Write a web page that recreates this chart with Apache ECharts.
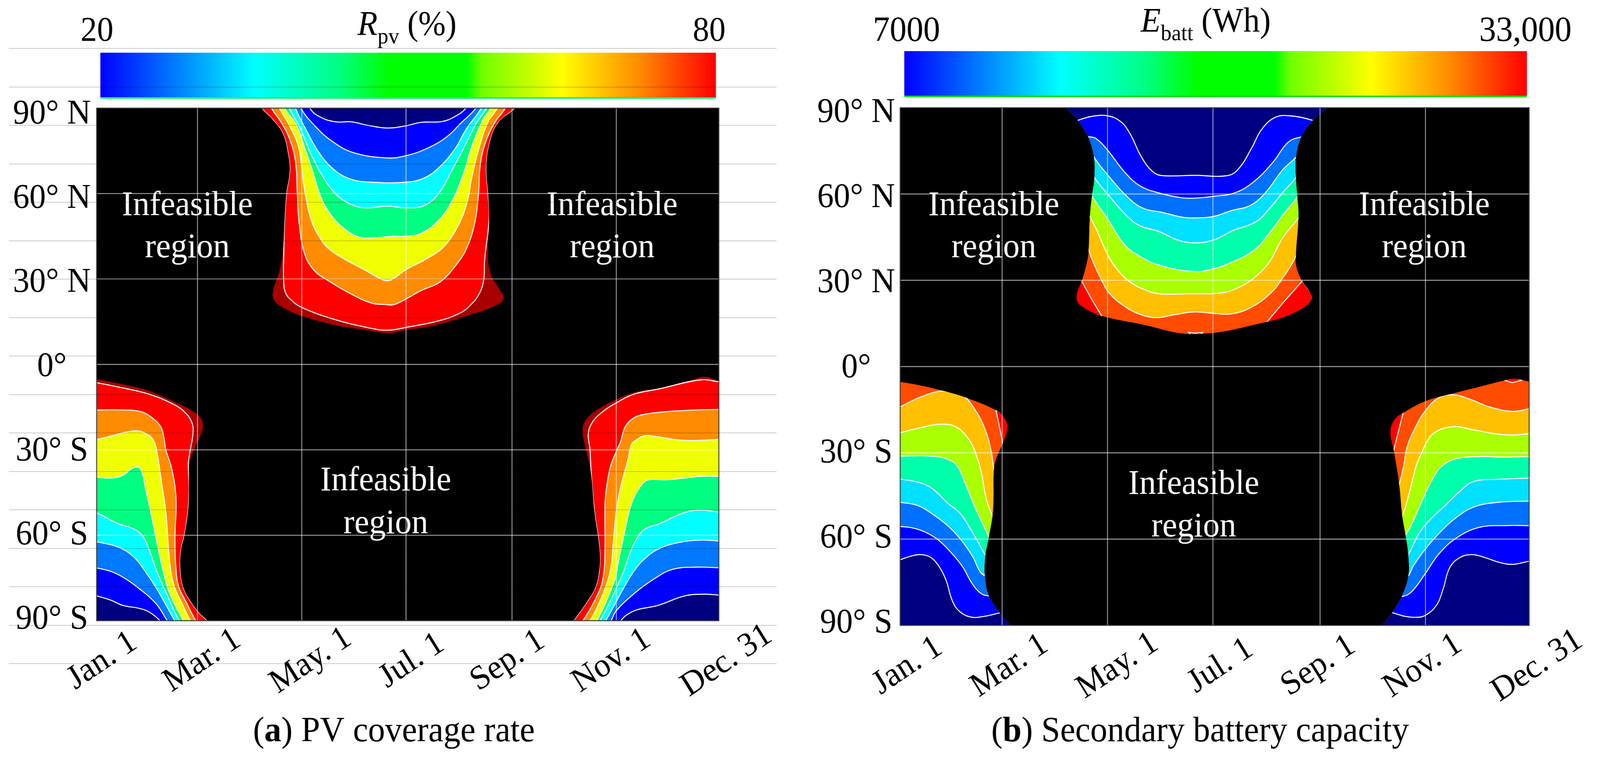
<!DOCTYPE html>
<html><head><meta charset="utf-8">
<style>html,body{margin:0;padding:0;background:#fff;overflow:hidden}#c{width:4289px;height:1952px;transform-origin:0 0}</style>
<script src="https://cdn.jsdelivr.net/npm/echarts@6/dist/echarts.min.js"></script>
</head><body><div id="c"></div>
<script>
// ---- tick labels and axis values ----
const tickDays=[59,120,181,243,304];
const monthLabels=['Jan. 1','Mar. 1','May. 1','Jul. 1','Sep. 1','Nov. 1','Dec. 31'];
const aLabelDays=[3.3,61.8,125.3,184.4,240.5,301.2,368.6];
const bLabelDays=[4.3,63.3,125.8,185.5,242,302.5,368.7];
const latValues=[-90,-60,-30,0,30,60,90];
const latLabels=['90° S','60° S','30° S','0°','30° N','60° N','90° N'];
const gridLats=[-60,-30,0,30,60];
const rpvRange=[20,80];
const ebattRange=[7000,33000];
const jetStops=[[0,'#0000ff'],[0.125,'#0080ff'],[0.25,'#00ffff'],[0.39,'#00ff80'],[0.47,'#00ff00'],[0.595,'#00ff00'],[0.62,'#70ff00'],[0.75,'#ffff00'],[0.875,'#ff8c00'],[1,'#ff0000']];

// ---- panel (a) PV coverage: contours as [day, latitude] ----
const aN_edge=[[96,92],[96.6,90],[103,86],[109,81],[112,74],[113,68],[111,60],[110,51],[109,40],[107,33],[103,25],[104.5,22],[112,19],[120,17],[138,14],[158,12],[170,11],[181,12],[200,14],[216,17],[231,20],[238,23],[235,27],[231,31],[229,37],[229.6,51],[229,60],[228,69],[230,78],[235,85],[244.7,90],[245,92]];
const aN_r80=[[96,92],[96.6,90],[103,86],[109,81],[112,74],[113,68],[111,60],[110,51],[109.5,40],[109.4,29],[110.6,25],[114,22.5],[120,20],[138,16],[158,13],[170,12],[181,13],[200,15.3],[212.5,18],[219,21],[224,25],[226.5,30],[227,37],[229.6,51],[229,60],[228,69],[230,78],[235,85],[244.7,90],[245,92]];
const aN_r70=[[101,93],[102.3,90],[108,85],[113,79],[116.4,71],[117.4,60],[118.4,50],[121.6,39],[127.3,33],[136.6,29],[148,25],[160.5,21.6],[169,21],[174,21],[181,23],[190,26],[201,29],[210.4,35],[216.6,41],[221.3,50],[223.4,60],[224.4,70],[227.5,78],[233,85],[239,90],[240,93]];
const aN_r60=[[106,93],[107,90],[112.7,84],[118,76.7],[120,68.7],[122,60],[125.7,50.4],[130.4,44.7],[135.6,40.7],[144,37.3],[156.4,33.3],[167.8,29.6],[172,29.6],[181,33.3],[192.7,37],[203,41.3],[211.4,48.7],[216.6,56.7],[219.7,66.4],[224,76.7],[229,85.2],[234.3,90],[235,93]];
const aN_r50=[[109,93],[110,90],[117,84],[122,75.5],[126.8,67],[131.4,58.4],[137.7,52],[145,47.6],[153,44.8],[160.5,44.4],[173,45],[181,45],[189.6,46],[199,50],[207.3,56.7],[214.6,67],[219.7,77],[226,86],[230.5,90],[231,93]];
const aN_r40=[[112,93],[112.7,90],[119,83],[125,74.4],[132.5,65.8],[139.7,60],[147,56.7],[156.4,55],[170,55.6],[181,55],[191.7,55.8],[200,60],[208.3,68.7],[215.6,77],[222,84.6],[228,90],[229,93]];
const aN_r30=[[116,93],[116.4,90],[122,83],[129.4,75],[137.7,69],[148,65.2],[160.5,64],[181,64],[191.7,65.5],[200,69],[209.4,75.5],[216.6,83],[225,90],[226,93]];
const aN_r25=[[119,93],[119.5,90],[127.3,84],[137.7,78.4],[150,74.4],[170,72.5],[181,73.3],[193.8,76],[205,80],[213.5,85],[221.8,90],[223,93]];
const aN_r20=[[124,93],[124.7,90],[130.4,87],[139.7,85.2],[149,85.2],[158.4,84],[170,83],[181,83.8],[189.6,85],[202,85.3],[209.4,87],[216,90],[217,93]];

const aSL_edge=[[-3,-5],[0,-5.2],[15.6,-7],[30.3,-9.2],[45,-13],[56,-16.3],[61,-19],[62.2,-21.5],[60.7,-25],[57.4,-29.4],[54.5,-34.4],[54,-41],[53.7,-50],[51.5,-59.5],[49.3,-65.6],[49,-72],[50.8,-78.5],[55.2,-83.4],[59.6,-87],[64.7,-90],[68,-93],[-3,-93]];
const aSL_r80=[[-3,-6.2],[0,-6.4],[15.6,-8.3],[30.3,-10.4],[45,-14],[52.3,-17.2],[56,-20.9],[56.3,-24.5],[55,-29.4],[53.7,-34.4],[54,-41],[53.7,-50],[51.5,-59.5],[49.3,-65.6],[49,-72],[50.8,-78.5],[55.2,-83.4],[59.6,-87],[64.7,-90],[68,-93],[-3,-93]];
const aSL_r70=[[-3,-16],[0,-16],[15.6,-16],[26,-16.6],[33,-19],[37.6,-22],[39.4,-25.8],[40.5,-30],[43.5,-35.6],[45.7,-42.3],[46.5,-49],[45.8,-61.4],[46.4,-71.8],[48,-78],[52.3,-83.4],[58,-90],[62,-93],[-3,-93]];
const aSL_r60=[[-3,-26.6],[0,-26.4],[8.3,-25.2],[15.6,-24],[23,-23.3],[28,-24],[33,-26.4],[35.4,-31.3],[37.6,-40],[40.5,-52],[42,-64.4],[43.5,-73],[45.7,-78.5],[50,-84],[54.8,-90],[58,-93],[-3,-93]];
const aSL_r50=[[-3,-39.6],[0,-39.6],[8.3,-39.9],[15,-39],[21.5,-36.3],[25.5,-36.5],[28.8,-44.2],[33.2,-56.4],[37,-67.5],[41.3,-78],[45,-83.4],[50.8,-90],[54,-93],[-3,-93]];
const aSL_r40=[[-3,-52],[0,-52.1],[12,-55.8],[21.5,-57.7],[26.6,-60],[30.3,-64.4],[35.4,-73],[41.3,-81],[48.2,-90],[52,-93],[-3,-93]];
const aSL_r30=[[-3,-62],[0,-62.3],[12,-64],[21.5,-67.5],[28.8,-73],[35.4,-79],[45.7,-90],[49,-93],[-3,-93]];
const aSL_r25=[[-3,-71.4],[0,-71.5],[8.3,-72.7],[15.6,-74.8],[24.4,-78.5],[34.7,-84],[41.3,-90],[45,-93],[-3,-93]];
const aSL_r20=[[-3,-81],[0,-81.3],[8.3,-82.8],[15.6,-84.7],[24.4,-85.6],[30.3,-86.8],[37,-90],[40,-93],[-3,-93]];

const aSR_edge=[[368,-6.2],[364,-5.8],[355.7,-4.3],[347.7,-5.5],[329,-8.3],[314.6,-9.8],[304,-12.3],[292.6,-16],[286,-19.6],[284.2,-23.3],[286,-29.4],[289,-37.4],[291.2,-51.5],[293.4,-60.7],[294.5,-67.5],[294,-72.4],[292,-78],[287.5,-82.8],[279,-90],[275,-93],[368,-93]];
const aSR_r80=[[368,-6.4],[364,-6.1],[353.5,-5.4],[329,-8.6],[314.6,-10.4],[304,-13.5],[294.8,-17.2],[289.3,-21],[287.6,-24.5],[288.6,-30],[289.3,-38],[291.2,-51.5],[293.4,-60.7],[294.5,-67.5],[294,-72.4],[292,-78],[287.5,-82.8],[279,-90],[275,-93],[368,-93]];
const aSR_r70=[[368,-15.8],[364,-15.8],[351,-16],[333,-16.6],[318.3,-17.8],[312.4,-19.6],[308.8,-22.4],[306.6,-27],[304.4,-30],[300.7,-35.6],[298.5,-42.3],[297.4,-49],[297.4,-65.6],[296.3,-74.8],[293.4,-80.4],[284.5,-90],[280,-93],[368,-93]];
const aSR_r60=[[368,-26.2],[364,-26.3],[351,-26.7],[340,-26.5],[329,-25.5],[321,-25],[316,-26.4],[312.8,-28.2],[311,-33],[306.6,-43],[304,-51.5],[302.2,-62.6],[300.7,-71.8],[296.3,-80.4],[288.6,-90],[284,-93],[368,-93]];
const aSR_r50=[[368,-39.2],[364,-39.3],[353.5,-39.3],[344,-39.9],[333,-40.5],[324.6,-40.4],[321,-41],[316.8,-44],[312.8,-49],[308.8,-59],[305,-70],[302.9,-76],[292.6,-90],[288,-93],[368,-93]];
const aSR_r40=[[368,-52],[364,-51.8],[353.5,-51.2],[344,-52],[329,-56],[321,-57.7],[316.8,-60.4],[312.4,-65.6],[307.3,-74.2],[294.5,-90],[290,-93],[368,-93]];
const aSR_r30=[[368,-62.2],[364,-62],[353.5,-61.7],[340,-62.6],[329,-64.7],[322,-67.5],[316,-71.2],[310,-76.7],[297.8,-90],[294,-93],[368,-93]];
const aSR_r25=[[368,-71.4],[364,-71.4],[351,-71.2],[336.7,-72],[325.7,-75.5],[314.6,-80.4],[304,-86.5],[301,-90],[298,-93],[368,-93]];
const aSR_r20=[[368,-81.2],[364,-81],[355,-80.7],[344,-81.3],[328,-84.7],[316,-86.2],[310,-88],[306.6,-90],[303,-93],[368,-93]];

// ---- panel (b) battery capacity ----
const bN_edge=[[95,92],[96.2,90],[102.8,85.7],[108.9,79.8],[112.2,72.8],[112.4,65.5],[111,59.3],[109.8,52.2],[109,40],[107.8,35.6],[105,29.7],[102.3,25.2],[102.8,22.4],[107.8,20],[116.6,17.6],[138.6,14.8],[170.5,11.3],[211.3,15.4],[230,19.3],[238.2,23.5],[237,26],[232.7,29.7],[229.4,34.5],[229,38.4],[230.5,52.2],[229.8,59.3],[229,65.5],[229,72.8],[232,79.8],[238.8,85.7],[246.5,90],[247.5,92]];
const bN_e30=[[106,47],[109,40.7],[112.2,35.6],[116.6,30],[121,25.5],[129.8,21],[138.6,18.2],[148.5,17],[158.4,18],[170.5,19],[181.3,18.5],[191.5,18.3],[202.5,20.4],[213.5,25],[221.2,30.6],[229,38.4],[233,46],[245,95],[95,95]];
const bN_e25=[[106,57],[109.8,52.2],[113.3,48],[120,39],[125.4,33.9],[133,29.4],[142,26.6],[149.6,25.3],[167,25.3],[186,25.6],[194.8,27.2],[203.6,30.3],[213.5,36.2],[221.2,44.6],[231,52.2],[235,57],[245,95],[95,95]];
const bN_e22=[[107,64],[111,59.3],[120,51.4],[129.8,42.4],[138.6,38.4],[149.6,35.3],[170.5,33],[181.3,34],[189.3,35.6],[204.7,40.4],[213.5,46.3],[221.2,52.5],[230,59.2],[235,65],[245,95],[95,95]];
const bN_e19=[[108,71],[112.4,65.7],[121,59.3],[131,52.5],[138.6,49],[149.6,47],[160.6,44],[170.5,43],[181.3,44],[192.6,47.3],[205.8,50.3],[213.5,54.8],[221.2,60.4],[229,65.7],[234,71],[245,95],[95,95]];
const bN_e16=[[108,78],[112.2,72.8],[121,66],[132,58.7],[140.8,55],[151.8,53.6],[162.8,52],[170.5,51.7],[181.3,52.2],[191.5,54.2],[202.5,56],[211.3,60.4],[221.2,68.3],[229,72.8],[234,77],[245,95],[95,95]];
const bN_e13=[[104,80],[108.9,79.9],[113.3,79.3],[120,75.3],[129.8,67.7],[138.6,62.9],[149.6,60.4],[162.8,58.7],[171.6,58.6],[181.3,59.2],[193.7,60.4],[204.7,64.3],[215.7,71],[224.5,78],[232.4,79.9],[237,80],[245,95],[95,95]];
const bN_e10=[[97,84],[102.8,85.6],[111,87],[120,87.2],[127.6,85.2],[133,81],[139.7,72.8],[146.3,67.7],[151.8,66.4],[170.5,66.5],[189.3,66.4],[195.9,68.8],[203.6,76.2],[209,82.3],[216.8,86.6],[225.6,87.2],[238.8,85.6],[245,84],[247,95],[95,95]];
const bN_peakL=[[105,29.7],[111,23.2],[116.6,17.6],[100,14],[95,25]];
const bN_peakR=[[232.7,29.7],[222.3,22.7],[211.8,15.2],[225,8],[245,20]];
const bN_peakM=[[167,11.9],[170.5,11.6],[175,11.9],[171,9]];

const bSL_edge=[[-3,-5],[0,-5.3],[11.4,-6.5],[26,-8.6],[40.4,-11.3],[55,-15],[59.2,-17],[62,-21],[59.2,-27],[55.6,-32],[54.2,-36.2],[54,-46],[53.4,-52],[51.3,-59.2],[49.1,-66.5],[49.1,-73.8],[51.3,-79.8],[57.8,-85.9],[63.6,-90],[67,-93],[-3,-93]];
const bSL_e30=[[-3,-14.6],[0,-14],[11.4,-10.7],[24.5,-8.5],[36,-10],[43.3,-15],[49,-21.6],[52.7,-29.5],[54.2,-35.6],[56,-40],[70,-93],[-3,-93]];
const bSL_e25=[[-3,-23.2],[0,-23],[11.4,-21.3],[24.5,-20],[33.2,-21.3],[40.4,-25.9],[44,-30.7],[47,-36.8],[49.8,-45.9],[53.4,-52.2],[56,-57],[70,-93],[-3,-93]];
const bSL_e22=[[-3,-31.1],[0,-31.1],[17.2,-31.1],[27.4,-32.2],[33.2,-34.7],[37.5,-40.4],[43.3,-48.9],[51.3,-59.2],[55,-64],[70,-93],[-3,-93]];
const bSL_e19=[[-3,-39],[0,-39.1],[11.4,-40.4],[18.7,-42.5],[27.4,-47.4],[34.6,-51],[40.4,-56.2],[49.5,-65.9],[53,-70],[70,-93],[-3,-93]];
const bSL_e16=[[-3,-47],[0,-47.2],[10,-48.3],[18.7,-51.3],[27.4,-55.3],[34.6,-59.8],[41.8,-65.9],[46.2,-71.3],[49.1,-72.8],[54,-74],[70,-93],[-3,-93]];
const bSL_e13=[[-3,-55.4],[0,-55.6],[7.8,-56.2],[15,-57.7],[22.3,-60.4],[29.5,-64.7],[36,-69.5],[41.8,-75.6],[47,-79],[51.6,-79.8],[56,-80.2],[70,-93],[-3,-93]];
const bSL_e10=[[-3,-68],[0,-67.2],[6.4,-65.9],[12.2,-65.4],[18,-66.5],[23,-70],[26.6,-74.4],[30.3,-81.6],[34.6,-85.3],[41.8,-87.2],[49.1,-86.8],[57.4,-85.7],[63,-85],[70,-93],[-3,-93]];
const bSL_peak=[[55.5,-15.3],[59.4,-26.5],[66,-26],[66,-15]];

const bSR_edge=[[368,-5.5],[364,-5.2],[355.3,-4.2],[349.8,-4.8],[335.3,-7],[317,-9.8],[304,-12],[291.4,-16],[286,-18.6],[283.7,-22.8],[285.6,-29],[288.8,-41],[290.6,-52],[292.5,-58.6],[294.1,-65.3],[294.1,-73],[290.3,-80],[284.8,-85.6],[279,-90],[275,-93],[368,-93]];
const bSR_e30=[[368,-14.4],[364,-14.7],[354.2,-15.6],[341,-14],[329.5,-11.3],[320,-9.8],[311.3,-11],[304,-15.3],[298.3,-21],[293.5,-27.7],[291.4,-34.4],[288.8,-41],[285,-48],[275,-93],[368,-93]];
const bSR_e25=[[368,-23.2],[364,-23.3],[355.6,-23.8],[346,-23.5],[331.7,-22],[320,-20.9],[309.2,-23],[304,-27],[302,-29.8],[299,-33.8],[294.6,-44],[290.6,-52],[285,-58],[275,-93],[368,-93]];
const bSR_e22=[[368,-31.3],[364,-31.3],[349.8,-31.5],[335.3,-31.3],[320.8,-32.2],[312.8,-35],[309.2,-38],[304,-44],[296.8,-53.8],[292.5,-58.6],[285,-65],[275,-93],[368,-93]];
const bSR_e19=[[368,-38.8],[364,-38.8],[346.2,-39.2],[331.7,-40],[323.7,-43.5],[317,-47.4],[310,-51.3],[304,-55],[299.7,-58.6],[294.1,-65.3],[288,-70],[275,-93],[368,-93]];
const bSR_e16=[[368,-46.8],[364,-46.8],[346.2,-47.2],[331.7,-48.9],[320.8,-53],[312.8,-57.4],[304,-63.4],[296.8,-69.5],[293.8,-73],[288,-75],[275,-93],[368,-93]];
const bSR_e13=[[368,-55.3],[364,-55.3],[349.8,-55.3],[335.3,-55.9],[322.2,-59.5],[312,-65],[304,-71.9],[299,-76.2],[294.6,-79],[290.3,-80],[285,-80.5],[275,-93],[368,-93]];
const bSR_e10=[[368,-67.4],[364,-67.7],[354.2,-68.8],[346.2,-68],[338.9,-66.5],[330.9,-65.4],[323.7,-66.5],[318,-70],[314.2,-77.4],[310.6,-82.8],[304,-86.5],[299,-87.2],[291.7,-86.8],[284.8,-85.6],[279,-85],[275,-93],[368,-93]];
const bSR_peak=[[291.1,-16],[285.6,-29.2],[278,-29],[278,-14]];
const bSR_peakTop=[[350,-4.8],[354.2,-5.6],[359.6,-4.8],[355,-3]];

// ---- colours of the filled contour levels ----
const aColors=['#ff0000','#ff8c00','#f0ff00','#00ff80','#00ffff','#0078ff','#0000ff','#000080'];
const bColors=['#ffc000','#aaff00','#00ffaa','#00e0ff','#0070ff','#0000ff','#000080'];

const SERIF='"Liberation Serif",serif';
function region(g,edge,edgeFill,levels,colors,peaks){
  const items=[{pts:edge,fill:edgeFill,line:false}];
  levels.forEach((pts,i)=>items.push({pts,fill:colors[i],line:true}));
  (peaks||[]).forEach(pts=>items.push({pts,fill:'#ff0000',line:true,sharp:true}));
  return {type:'custom',coordinateSystem:'cartesian2d',xAxisIndex:g,yAxisIndex:g,clip:true,z:2,silent:true,
    data:items.map((_,i)=>[i]),
    renderItem(p,api){
      const it=items[p.dataIndex];
      const poly=it.pts.map(q=>api.coord(q));
      const clip=edge.map(q=>api.coord(q));
      return {type:'polygon',shape:{points:poly,smooth:it.sharp?0:0.4},
        style:{fill:it.fill,stroke:it.line?'#ffffff':null,lineWidth:2.6},
        clipPath:{type:'polygon',shape:{points:clip,smooth:0.4}}};
    }};
}
function gridLines(g){
  return {type:'custom',coordinateSystem:'cartesian2d',xAxisIndex:g,yAxisIndex:g,clip:false,z:5,silent:true,
    data:tickDays.map(d=>[d,0]).concat(gridLats.map(l=>[null,l])).concat([[-1,-1]]),
    renderItem(p,api){
      const n=tickDays.length, i=p.dataIndex;
      const st={stroke:'rgba(255,255,255,0.62)',lineWidth:2.4,fill:null};
      if(i<n){const a=api.coord([tickDays[i],-90]),b=api.coord([tickDays[i],90]);
        return {type:'line',shape:{x1:a[0],y1:a[1],x2:b[0],y2:b[1]},style:st};}
      if(i<n+gridLats.length){const l=gridLats[i-n],a=api.coord([0,l]),b=api.coord([364,l]);
        return {type:'line',shape:{x1:a[0],y1:a[1],x2:b[0],y2:b[1]},style:st};}
      const a=api.coord([0,90]),b=api.coord([364,-90]);
      return {type:'rect',shape:{x:a[0],y:a[1],width:b[0]-a[0],height:b[1]-a[1]},style:{fill:null,stroke:'#3a3a3a',lineWidth:2.5}};
    }};
}
function monthText(g,days,off){
  return {type:'custom',coordinateSystem:'cartesian2d',xAxisIndex:g,yAxisIndex:g,clip:false,z:10,silent:true,
    data:days.map(d=>[d,-90]),
    renderItem(p,api){
      const c=api.coord([days[p.dataIndex],-90]);
      return {type:'text',x:c[0],y:c[1]+off,rotation:33*Math.PI/180,
        style:{text:monthLabels[p.dataIndex],fontSize:87,fontFamily:SERIF,fill:'#000',align:'center',verticalAlign:'middle'}};
    }};
}
function colorbar(g,range,strip){
  return {type:'custom',coordinateSystem:'cartesian2d',xAxisIndex:g,yAxisIndex:g,clip:false,z:2,silent:true,
    data:[[range[0],0],[range[1],1]],
    renderItem(p,api){
      const a=api.coord([range[0],1]),b=api.coord([range[1],0]);
      if(p.dataIndex===0){
        return {type:'rect',shape:{x:a[0],y:a[1],width:b[0]-a[0],height:b[1]-a[1]-4},
          style:{fill:new echarts.graphic.LinearGradient(0,0,1,0,jetStops.map(s=>({offset:s[0],color:s[1]})))}};
      }
      return {type:'rect',shape:{x:a[0],y:b[1]-4,width:b[0]-a[0],height:4},style:{fill:strip}};
    }};
}
const T=(text,x,y,size,extra)=>({type:'text',z:20,x,y,silent:true,
  style:Object.assign({text,fontFamily:SERIF,fontSize:size,fill:'#000',align:'center',verticalAlign:'middle'},extra||{})});
const W=(text,x,y)=>T(text,x,y,89,{fill:'#fff'});
const richTitle={i:{fontStyle:'italic',fontSize:88,fontFamily:SERIF,fill:'#000'},
  s:{fontSize:58,fontFamily:SERIF,fill:'#000',padding:[60,0,0,0]},
  n:{fontSize:88,fontFamily:SERIF,fill:'#000'},
  b:{fontSize:91,fontWeight:'bold',fontFamily:SERIF,fill:'#000'},
  c:{fontSize:91,fontFamily:SERIF,fill:'#000'}};

const axisBase=g=>({gridIndex:g,type:'value',min:0,max:364,axisLine:{show:false},axisTick:{show:false},axisLabel:{show:false},splitLine:{show:false}});
const latAxis=g=>({gridIndex:g,type:'value',min:-90,max:90,interval:30,axisLine:{show:false},axisTick:{show:false},axisLabel:{show:false},splitLine:{show:false}});
const latLabelAxis=(g,margin)=>({gridIndex:g,type:'value',min:-90,max:90,interval:30,z:8,
  axisLine:{show:false},axisTick:{show:false},splitLine:{show:false},
  axisLabel:{show:true,margin,fontSize:88,fontFamily:SERIF,color:'#000',align:'center',verticalAlign:'middle',
    formatter:v=>latLabels[latValues.indexOf(v)]}});
const hidden=(g,min,max)=>({gridIndex:g,type:'value',min,max,axisLine:{show:false},axisTick:{show:false},axisLabel:{show:false},splitLine:{show:false}});

const option={
  animation:false,backgroundColor:'#fff',
  grid:[
    {left:259,top:277,width:1668,height:1313,show:true,backgroundColor:'#000',borderWidth:0},
    {left:2413,top:276,width:1686,height:1326,show:true,backgroundColor:'#000',borderWidth:0},
    {left:269,top:135,width:1650,height:118},
    {left:2424,top:131,width:1669,height:118},
    {left:24,top:124,width:2058,height:1576},
    {left:259,top:293,width:1668,height:1294},
    {left:2413,top:289,width:1686,height:1308}
  ],
  xAxis:[axisBase(0),axisBase(1),hidden(2,rpvRange[0],rpvRange[1]),hidden(3,ebattRange[0],ebattRange[1]),hidden(4,0,1),hidden(5,0,1),hidden(6,0,1)],
  yAxis:[latAxis(0),latAxis(1),hidden(2,0,1),hidden(3,0,1),
    {gridIndex:4,type:'value',min:0,max:16,interval:1,z:30,axisLine:{show:false},axisTick:{show:false},axisLabel:{show:false},
     splitLine:{show:true,lineStyle:{color:'rgba(0,0,0,0.27)',width:1.5}}},
    latLabelAxis(5,120),latLabelAxis(6,118)],
  series:[
    region(0,aN_edge,'#a80000',[aN_r80,aN_r70,aN_r60,aN_r50,aN_r40,aN_r30,aN_r25,aN_r20],aColors),
    region(0,aSL_edge,'#a80000',[aSL_r80,aSL_r70,aSL_r60,aSL_r50,aSL_r40,aSL_r30,aSL_r25,aSL_r20],aColors),
    region(0,aSR_edge,'#a80000',[aSR_r80,aSR_r70,aSR_r60,aSR_r50,aSR_r40,aSR_r30,aSR_r25,aSR_r20],aColors),
    region(1,bN_edge,'#ff4c00',[bN_e30,bN_e25,bN_e22,bN_e19,bN_e16,bN_e13,bN_e10],bColors,[bN_peakL,bN_peakR,bN_peakM]),
    region(1,bSL_edge,'#ff4c00',[bSL_e30,bSL_e25,bSL_e22,bSL_e19,bSL_e16,bSL_e13,bSL_e10],bColors,[bSL_peak]),
    region(1,bSR_edge,'#ff4c00',[bSR_e30,bSR_e25,bSR_e22,bSR_e19,bSR_e16,bSR_e13,bSR_e10],bColors,[bSR_peak,bSR_peakTop]),
    gridLines(0),gridLines(1),
    monthText(0,aLabelDays,103),monthText(1,bLabelDays,104),
    colorbar(2,rpvRange,'#00ff66'),colorbar(3,ebattRange,'#00e000')
  ],
  graphic:{elements:[
    T(String(rpvRange[0]),260,81,88),T(String(rpvRange[1]),1901,81,88),
    T('7000',2430,81,90),T('33,000',4089,81,90),
    T('{i|R}{s|pv}{n| (%)}',1091,66,88,{rich:richTitle}),
    T('{i|E}{s|batt}{n| (Wh)}',3232,58,88,{rich:richTitle}),
    T('{c|(}{b|a}{c|) PV coverage rate}',1056,1875,91,{rich:richTitle}),
    T('{c|(}{b|b}{c|) Secondary battery capacity}',3217,1875,91,{rich:richTitle}),
    W('Infeasible',502,528),W('region',502,636),
    W('Infeasible',1641,528),W('region',1641,636),
    W('Infeasible',1034,1233),W('region',1034,1343),
    W('Infeasible',2664,528),W('region',2664,636),
    W('Infeasible',3818,528),W('region',3818,636),
    W('Infeasible',3200,1242),W('region',3200,1351)
  ]}
};
// The sandbox's window can be narrower than the 4289 px the chart is laid out for: fit it horizontally.
const box=document.getElementById('c');
const fit=Math.min(1,window.innerWidth/4289);
if(fit<1) box.style.transform='scaleX('+fit+')';
const chart=echarts.init(box,null,{renderer:'canvas',width:4289,height:1952});
chart.setOption(option);
</script></body></html>
